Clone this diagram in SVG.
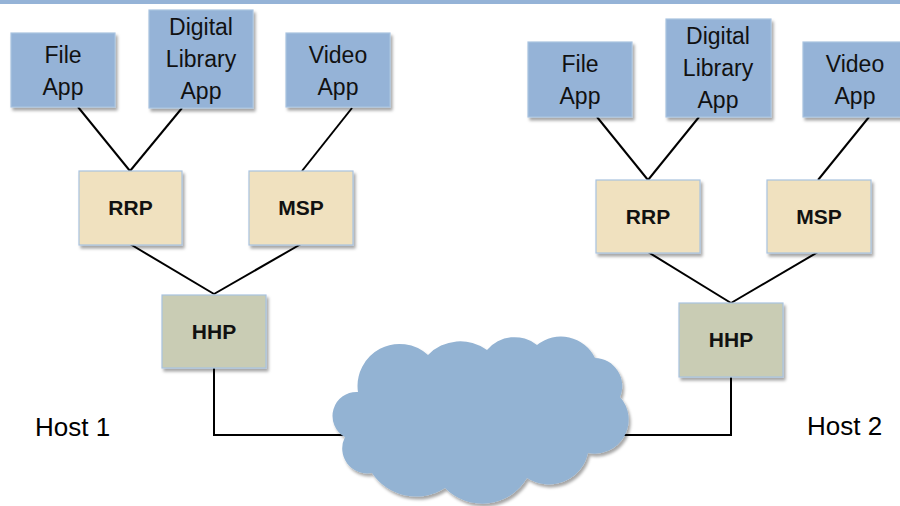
<svg xmlns="http://www.w3.org/2000/svg" width="900" height="506" viewBox="0 0 900 506">
<style>
.app{fill:#95b3d7;stroke:#a9c3e0;stroke-width:1.2}
.proto{fill:#f0e1bf;stroke:#a9c3e0;stroke-width:1.2}
.hhp{fill:#c9ccb4;stroke:#a9c3e0;stroke-width:1.2}
.t{font-family:"Liberation Sans",Arial,sans-serif;font-size:23px;fill:#111;text-anchor:middle}
.b{font-family:"Liberation Sans",Arial,sans-serif;font-size:21px;font-weight:bold;fill:#111;text-anchor:middle}
.host{font-family:"Liberation Sans",Arial,sans-serif;font-size:26px;fill:#000}
.conn line,.conn polyline{stroke:#000;stroke-width:2;fill:none}
</style>
<defs>
<filter id="sh" x="-10%" y="-10%" width="130%" height="130%">
<feDropShadow dx="2" dy="3" stdDeviation="1.5" flood-color="#000" flood-opacity="0.35"/>
</filter>
</defs>
<rect x="0" y="0" width="900" height="4" fill="#95b3d7"/>
<g class="conn" id="connectors">
<line x1="78" y1="107" x2="130" y2="171"/>
<line x1="182" y1="108" x2="130" y2="171"/>
<line x1="352" y1="108" x2="302" y2="171"/>
<line x1="130" y1="244" x2="214" y2="294"/>
<line x1="301" y1="244" x2="214" y2="294"/>
<polyline points="214,368 214,435 350,435"/>
<line x1="597" y1="117" x2="648" y2="180"/>
<line x1="699" y1="117" x2="648" y2="180"/>
<line x1="869" y1="117" x2="818" y2="180"/>
<line x1="648" y1="252" x2="731" y2="303"/>
<line x1="818" y1="252" x2="731" y2="303"/>
<polyline points="731,377 731,435 618,435"/>
</g>
<g id="cloud">
<path filter="url(#sh)" fill="#93b3d3" d="M358,392 A42,42 0 0 1 428,355 A45,45 0 0 1 487,350 A36,36 0 0 1 537,345 A38,38 0 0 1 595,358 A28,28 0 0 1 620,397 A34,34 0 0 1 588,453 A40,40 0 0 1 527,478 A52,52 0 0 1 445,488 A53,53 0 0 1 372,473 A25,25 0 0 1 345,437 A24,24 0 0 1 358,392 Z"/>
</g>
<g id="h1-file"><rect class="app" filter="url(#sh)" x="11" y="33" width="104" height="74"/><text class="t" x="63" y="63">File</text><text class="t" x="63" y="95">App</text></g>
<g id="h1-dl"><rect class="app" filter="url(#sh)" x="149" y="10" width="104" height="98"/><text class="t" x="201" y="35">Digital</text><text class="t" x="201" y="67">Library</text><text class="t" x="201" y="99">App</text></g>
<g id="h1-video"><rect class="app" filter="url(#sh)" x="286" y="33" width="104" height="74"/><text class="t" x="338" y="63">Video</text><text class="t" x="338" y="95">App</text></g>
<g id="h1-rrp"><rect class="proto" filter="url(#sh)" x="79" y="171" width="103" height="74"/><text class="b" x="130.5" y="215">RRP</text></g>
<g id="h1-msp"><rect class="proto" filter="url(#sh)" x="249" y="171" width="104" height="74"/><text class="b" x="301" y="215">MSP</text></g>
<g id="h1-hhp"><rect class="hhp" filter="url(#sh)" x="162" y="295" width="104" height="73"/><text class="b" x="214" y="339">HHP</text></g>
<g id="h2-file"><rect class="app" filter="url(#sh)" x="528" y="42" width="104" height="75"/><text class="t" x="580" y="72">File</text><text class="t" x="580" y="104">App</text></g>
<g id="h2-dl"><rect class="app" filter="url(#sh)" x="666" y="19" width="105" height="98"/><text class="t" x="718" y="44">Digital</text><text class="t" x="718" y="76">Library</text><text class="t" x="718" y="108">App</text></g>
<g id="h2-video"><rect class="app" filter="url(#sh)" x="803" y="42" width="104" height="75"/><text class="t" x="855" y="72">Video</text><text class="t" x="855" y="104">App</text></g>
<g id="h2-rrp"><rect class="proto" filter="url(#sh)" x="596" y="180" width="104" height="73"/><text class="b" x="648" y="224">RRP</text></g>
<g id="h2-msp"><rect class="proto" filter="url(#sh)" x="767" y="180" width="104" height="73"/><text class="b" x="819" y="224">MSP</text></g>
<g id="h2-hhp"><rect class="hhp" filter="url(#sh)" x="679" y="303" width="104" height="74"/><text class="b" x="731" y="347">HHP</text></g>
<text class="host" x="35" y="436">Host 1</text>
<text class="host" x="807" y="435">Host 2</text>
</svg>
